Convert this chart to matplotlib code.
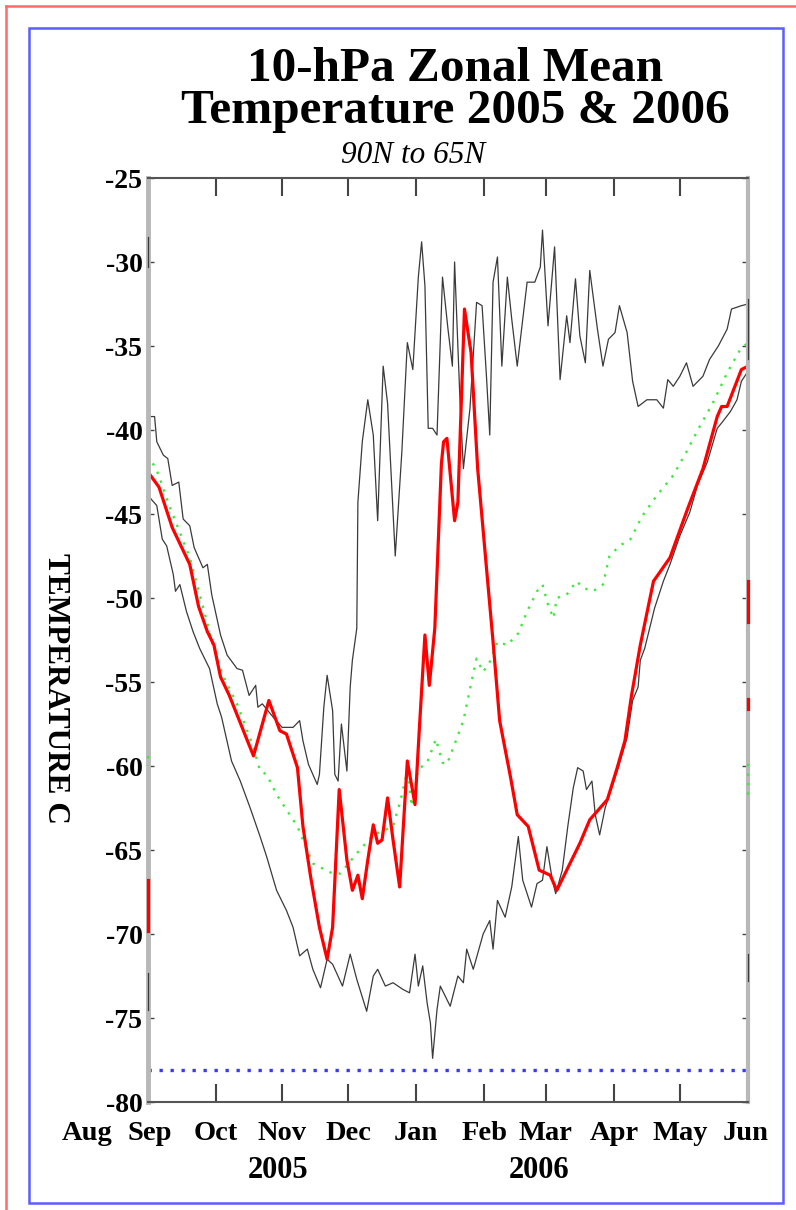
import matplotlib
matplotlib.use('Agg')
import matplotlib.pyplot as plt
from matplotlib.lines import Line2D
from matplotlib.patches import Rectangle

# days counted from 1 Sep 2005, temperatures in C
max_day = [0, 3, 4, 7, 9, 11, 14, 16, 19, 21, 25, 27, 29, 33, 36, 40.5, 43, 46, 49, 50, 52, 57, 61, 66,
           69, 70.5, 73, 77, 78, 80, 81.5, 84, 85, 86.5, 88, 90.5, 92, 93, 95, 95.5, 97.5, 100, 102.5,
           104.5, 107, 109, 112.5, 115.5, 118, 120.5, 123, 124.5, 126, 127.5, 129.5, 131.5, 134, 136.5,
           138.5, 139.5, 142, 143.5, 146.5, 149.5, 152, 154, 155.5, 157, 159, 161, 163.5, 165.5, 168,
           172.5, 176, 178.5, 179.5, 182, 185, 187.5, 190.5, 192, 194.5, 196.5, 199, 201, 204.5, 207,
           209.5, 212.5, 214.5, 218, 220.5, 223, 227, 231.5, 234.5, 236.5, 239, 242, 245, 248, 252.5,
           255.5, 259.5, 263.5, 265.5, 270, 273]
max_temp = [-39.2, -39.2, -40.7, -41.5, -41.7, -43.3, -43.1, -45.3, -45.7, -47.0, -48.2, -48.0, -49.8,
            -52.2, -53.4, -54.2, -54.3, -55.8, -55.2, -56.5, -56.3, -57.1, -57.7, -57.7, -57.3, -58.5,
            -59.9, -61.1, -60.5, -56.5, -54.6, -56.7, -60.5, -60.9, -57.5, -60.3, -55.3, -53.7, -51.8,
            -44.3, -40.7, -38.2, -40.3, -45.4, -36.2, -38.4, -47.5, -41.3, -34.8, -36.4, -30.9, -28.8,
            -31.4, -39.9, -39.9, -40.3, -30.9, -34.0, -36.2, -30.0, -38.4, -42.3, -38.7, -32.4, -32.6,
            -36.8, -40.3, -31.2, -29.7, -36.2, -30.9, -33.4, -36.2, -31.2, -31.2, -30.3, -28.1, -33.8,
            -29.1, -37.0, -33.2, -34.8, -31.0, -34.4, -36.0, -30.5, -34.0, -36.2, -34.6, -34.2, -32.6,
            -34.2, -37.1, -38.6, -38.2, -38.2, -38.7, -37.0, -37.4, -36.8, -36.0, -37.4, -36.8, -35.8,
            -35.0, -34.0, -32.8, -32.6, -32.5]

min_day = [0, 4, 6.5, 8.5, 11.5, 12.5, 14.5, 17.5, 20.5, 23.5, 28, 31.5, 33.5, 38, 42, 46.5, 51, 54,
           58.5, 63, 66, 69, 72.5, 75, 78.5, 81.5, 84, 88.5, 92, 95, 99.5, 102.5, 104.5, 108, 111.5,
           116, 119, 121.5, 123, 125, 127, 128.5, 129.5, 131.5, 133, 137.5, 141, 143.5, 145, 148, 152.5,
           155.5, 157, 159, 162.5, 165.5, 168.5, 170.5, 174.5, 177, 179.5, 181.5, 184, 185.5, 188.5,
           191, 193.5, 195.5, 198, 199.5, 202, 203.5, 205.5, 208, 213.5, 218, 220.5, 223, 224, 226,
           230.5, 234.5, 237.5, 242, 246.5, 250, 254.5, 259, 261.5, 265, 268, 270, 273]
min_temp = [-43.9, -44.5, -46.5, -46.9, -48.6, -49.6, -49.2, -50.8, -52.0, -53.0, -54.2, -56.3, -57.1,
            -59.7, -60.9, -62.5, -64.2, -65.4, -67.4, -68.6, -69.6, -71.3, -70.9, -72.1, -73.2, -71.5,
            -71.8, -73.1, -71.2, -72.7, -74.6, -72.5, -72.1, -73.1, -72.9, -73.3, -73.5, -71.2, -73.1,
            -71.9, -74.1, -75.3, -77.4, -74.5, -73.1, -74.3, -72.5, -72.9, -70.9, -72.1, -70.0, -69.2,
            -70.9, -68.0, -69.0, -67.2, -64.2, -66.8, -68.4, -67.0, -66.8, -64.8, -66.8, -67.6, -66.2,
            -63.6, -61.3, -60.1, -60.3, -61.4, -60.9, -62.9, -64.1, -62.5, -60.3, -58.3, -56.1, -55.3,
            -53.7, -53.0, -50.6, -49.0, -48.0, -46.3, -44.9, -43.3, -41.9, -39.9, -39.5, -38.9, -38.2,
            -37.1, -36.5]

clim_day = [0, 4, 10, 19, 26, 29.5, 34, 40.5, 48, 51, 54, 58.5, 60, 68, 75, 84, 87.5, 95, 102.5, 111.5,
            115, 118, 120, 123, 127, 131, 134, 136, 139.5, 143.5, 147.5, 149.5, 152.5, 155.5, 159, 163.5,
            168.5, 172.5, 177, 179.5, 182, 184.5, 186, 190.5, 195, 198, 202.5, 207, 210, 214.5, 219.5,
            225, 231.5, 239, 245, 251, 257, 263.5, 269.5, 273]
clim_temp = [-41.5, -42.4, -44.6, -47.6, -51.0, -52.8, -54.6, -56.3, -58.9, -60.3, -60.5, -61.7, -62.0,
             -63.6, -65.8, -66.4, -66.4, -65.2, -64.1, -63.6, -62.0, -60.3, -62.4, -60.2, -59.8, -58.4,
             -59.8, -59.9, -58.7, -57.3, -54.8, -53.6, -54.4, -53.8, -52.6, -52.8, -52.1, -50.8, -49.6,
             -49.2, -50.4, -51.2, -50.0, -49.8, -49.0, -49.4, -49.6, -49.2, -47.5, -46.9, -46.5, -45.1,
             -43.9, -42.7, -41.3, -39.8, -38.4, -36.6, -35.2, -34.8]

y0506_day = [0, 5, 11, 19, 23, 27, 30, 33, 37, 48, 55, 60, 63, 68, 70.5, 74, 78, 81.5, 84, 87, 90.5, 93,
             95.5, 97.5, 100, 102.5, 104.5, 106.5, 109, 111.5, 114.5, 118, 121.5, 123.5, 126, 128, 130.5,
             133.5, 134.5, 136, 139.5, 141, 144, 147, 150, 154, 157, 160, 165, 168, 173, 178, 183, 186,
             190.5, 196.5, 201, 209, 213.5, 217, 220, 224, 230, 237.5, 245.5, 252.5, 259, 261, 263.5, 270,
             273]
y0506_temp = [-42.5, -43.4, -45.8, -48.0, -50.5, -52.0, -52.8, -54.7, -55.8, -59.4, -56.1, -57.9, -58.1,
              -60.1, -63.6, -66.6, -69.6, -71.5, -69.6, -61.4, -65.6, -67.4, -66.5, -67.9, -65.6, -63.5,
              -64.6, -64.4, -61.9, -64.4, -67.2, -59.7, -62.3, -57.7, -52.2, -55.2, -51.8, -42.0, -40.7,
              -40.5, -45.4, -44.3, -32.8, -35.4, -42.3, -48.2, -52.6, -57.3, -60.7, -62.9, -63.6, -66.2,
              -66.5, -67.4, -66.2, -64.6, -63.2, -62.0, -60.1, -58.5, -55.8, -52.8, -49.0, -47.6, -44.7,
              -42.3, -39.2, -38.6, -38.6, -36.4, -36.2]

cold_limit = -78.1

# short pieces of each series left standing on the frame edges
stub_day = [0, 0, 0, 0, 273, 273, 273, 273, 273]
stub_lo = [-28.5, -72.3, -66.8, -59.4, -32.2, -71.2, -49.0, -56.0, -59.9]
stub_hi = [-30.3, -74.5, -69.8, -60.0, -35.8, -72.8, -51.4, -56.6, -62.0]
stub_kind = ['max', 'min', 'y0506', 'clim', 'max', 'min', 'y0506', 'y0506', 'clim']

month_names = ['Aug', 'Sep', 'Oct', 'Nov', 'Dec', 'Jan', 'Feb', 'Mar', 'Apr', 'May', 'Jun']
month_label_day = [-27.5, 1, 31, 61, 91, 122, 153, 181, 212, 242, 272]
month_tick_day = [31, 61, 91, 122, 153, 181, 212, 242]
year_names = ['2005', '2006']
year_label_day = [59, 178]
ytick_vals = [-80, -75, -70, -65, -60, -55, -50, -45, -40, -35, -30, -25]

W, H = 796, 1210


def fx(px):
    return px / W


def fy(py):
    return 1 - py / H


plt.rcParams['font.family'] = ['Liberation Serif', 'DejaVu Serif']
fig = plt.figure(figsize=(W / 100, H / 100), dpi=100)
ax = fig.add_axes([fx(148), fy(1102), fx(748) - fx(148), fy(178) - fy(1102)])

styles = {
    'max': dict(color='#3a3a3a', lw=0.9),
    'min': dict(color='#3a3a3a', lw=0.9),
    'clim': dict(color='#3ee83e', lw=1.7, linestyle=(0, (1, 3))),
    'y0506': dict(color='#ff0000', lw=2.3),
}

ax.plot(max_day, max_temp, **styles['max'])
ax.plot(min_day, min_temp, **styles['min'])
ax.plot(clim_day, clim_temp, **styles['clim'])
ax.plot(y0506_day, y0506_temp, **styles['y0506'])
ax.axhline(cold_limit, color='#3838ff', lw=2.4, linestyle=(0, (1, 2.3)))

for d, lo, hi, k in zip(stub_day, stub_lo, stub_hi, stub_kind):
    ax.plot([d, d], [lo, hi], clip_on=False, zorder=3, **styles[k])

ax.set_xlim(0, 273)
ax.set_ylim(-80, -25)

ax.spines['left'].set_color('#b8b8b8')
ax.spines['left'].set_linewidth(3.5)
ax.spines['right'].set_color('#b8b8b8')
ax.spines['right'].set_linewidth(3)
for s in ['top', 'bottom']:
    ax.spines[s].set_color('#555555')
    ax.spines[s].set_linewidth(1.5)

ax.set_xticks(month_tick_day)
ax.tick_params(axis='x', direction='in', length=13, width=1.5, color='#444444',
               top=True, bottom=True, labelbottom=False)
ax.set_yticks(ytick_vals)
ax.set_yticklabels([str(v) for v in ytick_vals], fontweight='bold', fontsize=20)
ax.tick_params(axis='y', direction='in', length=4, width=1, color='#444444',
               left=True, right=True, pad=4)

for name, d in zip(month_names, month_label_day):
    ax.annotate(name, xy=(d, 0), xycoords=('data', 'axes fraction'), xytext=(0, -27.4),
                textcoords='offset points', ha='center', va='baseline',
                fontsize=20.5, fontweight='bold', annotation_clip=False)
for name, d in zip(year_names, year_label_day):
    ax.annotate(name, xy=(d, 0), xycoords=('data', 'axes fraction'), xytext=(0, -54.7),
                textcoords='offset points', ha='center', va='baseline',
                fontsize=22, fontweight='bold', annotation_clip=False)

fig.text(fx(455), fy(123), '10-hPa Zonal Mean\nTemperature 2005 & 2006', ha='center',
         va='baseline', multialignment='center', linespacing=0.93,
         fontsize=35.5, fontweight='bold')
fig.text(fx(413), fy(163), '90N to 65N', ha='center', va='baseline',
         fontsize=22.5, style='italic')
fig.text(fx(55), fy(688), 'TEMPERATURE C', ha='center', va='center', rotation=270,
         fontsize=22.5, fontweight='bold')

# page frames
fig.add_artist(Line2D([fx(6), fx(6)], [fy(6), 0], transform=fig.transFigure,
                      color='#ff6b6b', lw=1.8))
fig.add_artist(Line2D([fx(6), 1], [fy(6), fy(6)], transform=fig.transFigure,
                      color='#ff6b6b', lw=1.8))
fig.add_artist(Rectangle((fx(29), fy(1203)), fx(783) - fx(29), fy(28) - fy(1203),
                         transform=fig.transFigure, fill=False, ec='#5c5cff', lw=1.8))

fig.savefig('out.png', dpi=100)
